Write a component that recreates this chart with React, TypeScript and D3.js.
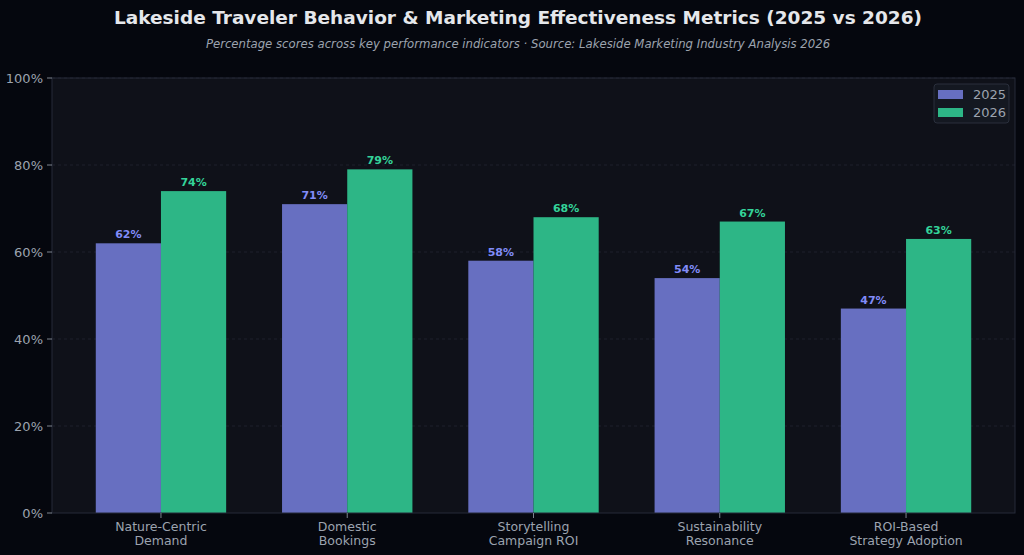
import React from 'react';
import * as d3 from 'd3';

// chart data
const categories = [
    'Nature-Centric\nDemand',
    'Domestic\nBookings',
    'Storytelling\nCampaign ROI',
    'Sustainability\nResonance',
    'ROI-Based\nStrategy Adoption',
];
const values2025 = [62, 71, 58, 54, 47];
const values2026 = [74, 79, 68, 67, 63];
const yTicks = [0, 20, 40, 60, 80, 100];
const seriesNames = ['2025', '2026'];

const W = 1024;
const H = 555;
const margin = { top: 78, right: 9, bottom: 42, left: 52 };
const innerW = W - margin.left - margin.right;
const innerH = H - margin.top - margin.bottom;

const barColors = ['#676fc1', '#2db686'];
const labelColors = ['#818cf8', '#34d399'];
const font = '"DejaVu Sans", sans-serif';

const App: React.FC = () => {
    const barW = 0.35;
    // matplotlib-style linear x axis with 5% margin
    const xScale = d3
        .scaleLinear()
        .domain([-barW - 0.235, categories.length - 1 + barW + 0.235])
        .range([0, innerW]);
    const yScale = d3.scaleLinear().domain([0, 100]).range([innerH, 0]);
    const bw = xScale(barW) - xScale(0);

    const series = [values2025, values2026];

    return (
        <svg width={W} height={H} style={{ position: 'fixed', left: 0, top: 0, display: 'block' }} fontFamily={font}>
            <rect width={W} height={H} fill="#05070e" />
            <text x={518} y={24} textAnchor="middle" fontSize={18.5} fontWeight="bold" fill="#e5e7eb">
                Lakeside Traveler Behavior &amp; Marketing Effectiveness Metrics (2025 vs 2026)
            </text>
            <text x={518} y={48} textAnchor="middle" fontSize={11.7} fontStyle="italic" fill="#9ca3af">
                Percentage scores across key performance indicators · Source: Lakeside Marketing Industry Analysis 2026
            </text>
            <g transform={`translate(${margin.left},${margin.top})`}>
                <rect width={innerW} height={innerH} fill="#0f1119" />
                {/* grid */}
                {yTicks.slice(1).map((t) => (
                    <line
                        key={t}
                        x1={0}
                        x2={innerW}
                        y1={yScale(t)}
                        y2={yScale(t)}
                        stroke="#2a2f3c"
                        strokeWidth={0.8}
                        strokeDasharray="3,3"
                        opacity={0.7}
                    />
                ))}
                {/* bars */}
                {series.map((vals, si) =>
                    vals.map((v, i) => {
                        const x0 = si === 0 ? xScale(i - barW) : xScale(i);
                        return (
                            <rect
                                key={`${si}-${i}`}
                                x={x0}
                                y={yScale(v)}
                                width={bw}
                                height={innerH - yScale(v)}
                                fill={barColors[si]}
                            />
                        );
                    })
                )}
                {/* value labels */}
                {series.map((vals, si) =>
                    vals.map((v, i) => (
                        <text
                            key={`l${si}-${i}`}
                            x={xScale(si === 0 ? i - barW / 2 : i + barW / 2)}
                            y={yScale(v) - 5}
                            textAnchor="middle"
                            fontSize={11}
                            fontWeight="bold"
                            fill={labelColors[si]}
                        >
                            {v}%
                        </text>
                    ))
                )}
                {/* spines */}
                <rect width={innerW} height={innerH} fill="none" stroke="#262b38" strokeWidth={1} />
                {/* y axis */}
                {yTicks.map((t) => (
                    <g key={`y${t}`} transform={`translate(0,${yScale(t)})`}>
                        <line x1={-5} x2={0} stroke="#9ca3af" strokeWidth={0.8} />
                        <text x={-9} dy="0.35em" textAnchor="end" fontSize={13} fill="#9ca3af">
                            {t}%
                        </text>
                    </g>
                ))}
                {/* x axis */}
                {categories.map((c, i) => (
                    <g key={`x${i}`} transform={`translate(${xScale(i)},${innerH})`}>
                        <line y1={0} y2={5} stroke="#9ca3af" strokeWidth={0.8} />
                        {c.split('\n').map((line, li) => (
                            <text key={li} y={18 + li * 14} textAnchor="middle" fontSize={12.5} fill="#9ca3af">
                                {line}
                            </text>
                        ))}
                    </g>
                ))}
                {/* legend */}
                <g transform={`translate(${innerW - 81},6)`}>
                    <rect width={75} height={39} rx={3} fill="#141821" stroke="#2a2f3c" strokeWidth={1} />
                    {seriesNames.map((s, si) => (
                        <g key={s} transform={`translate(0,${si * 18})`}>
                            <rect x={4} y={6} width={25} height={9} fill={barColors[si]} />
                            <text x={39} y={15} fontSize={13} fill="#9ca3af">
                                {s}
                            </text>
                        </g>
                    ))}
                </g>
            </g>
        </svg>
    );
};

export default App;
